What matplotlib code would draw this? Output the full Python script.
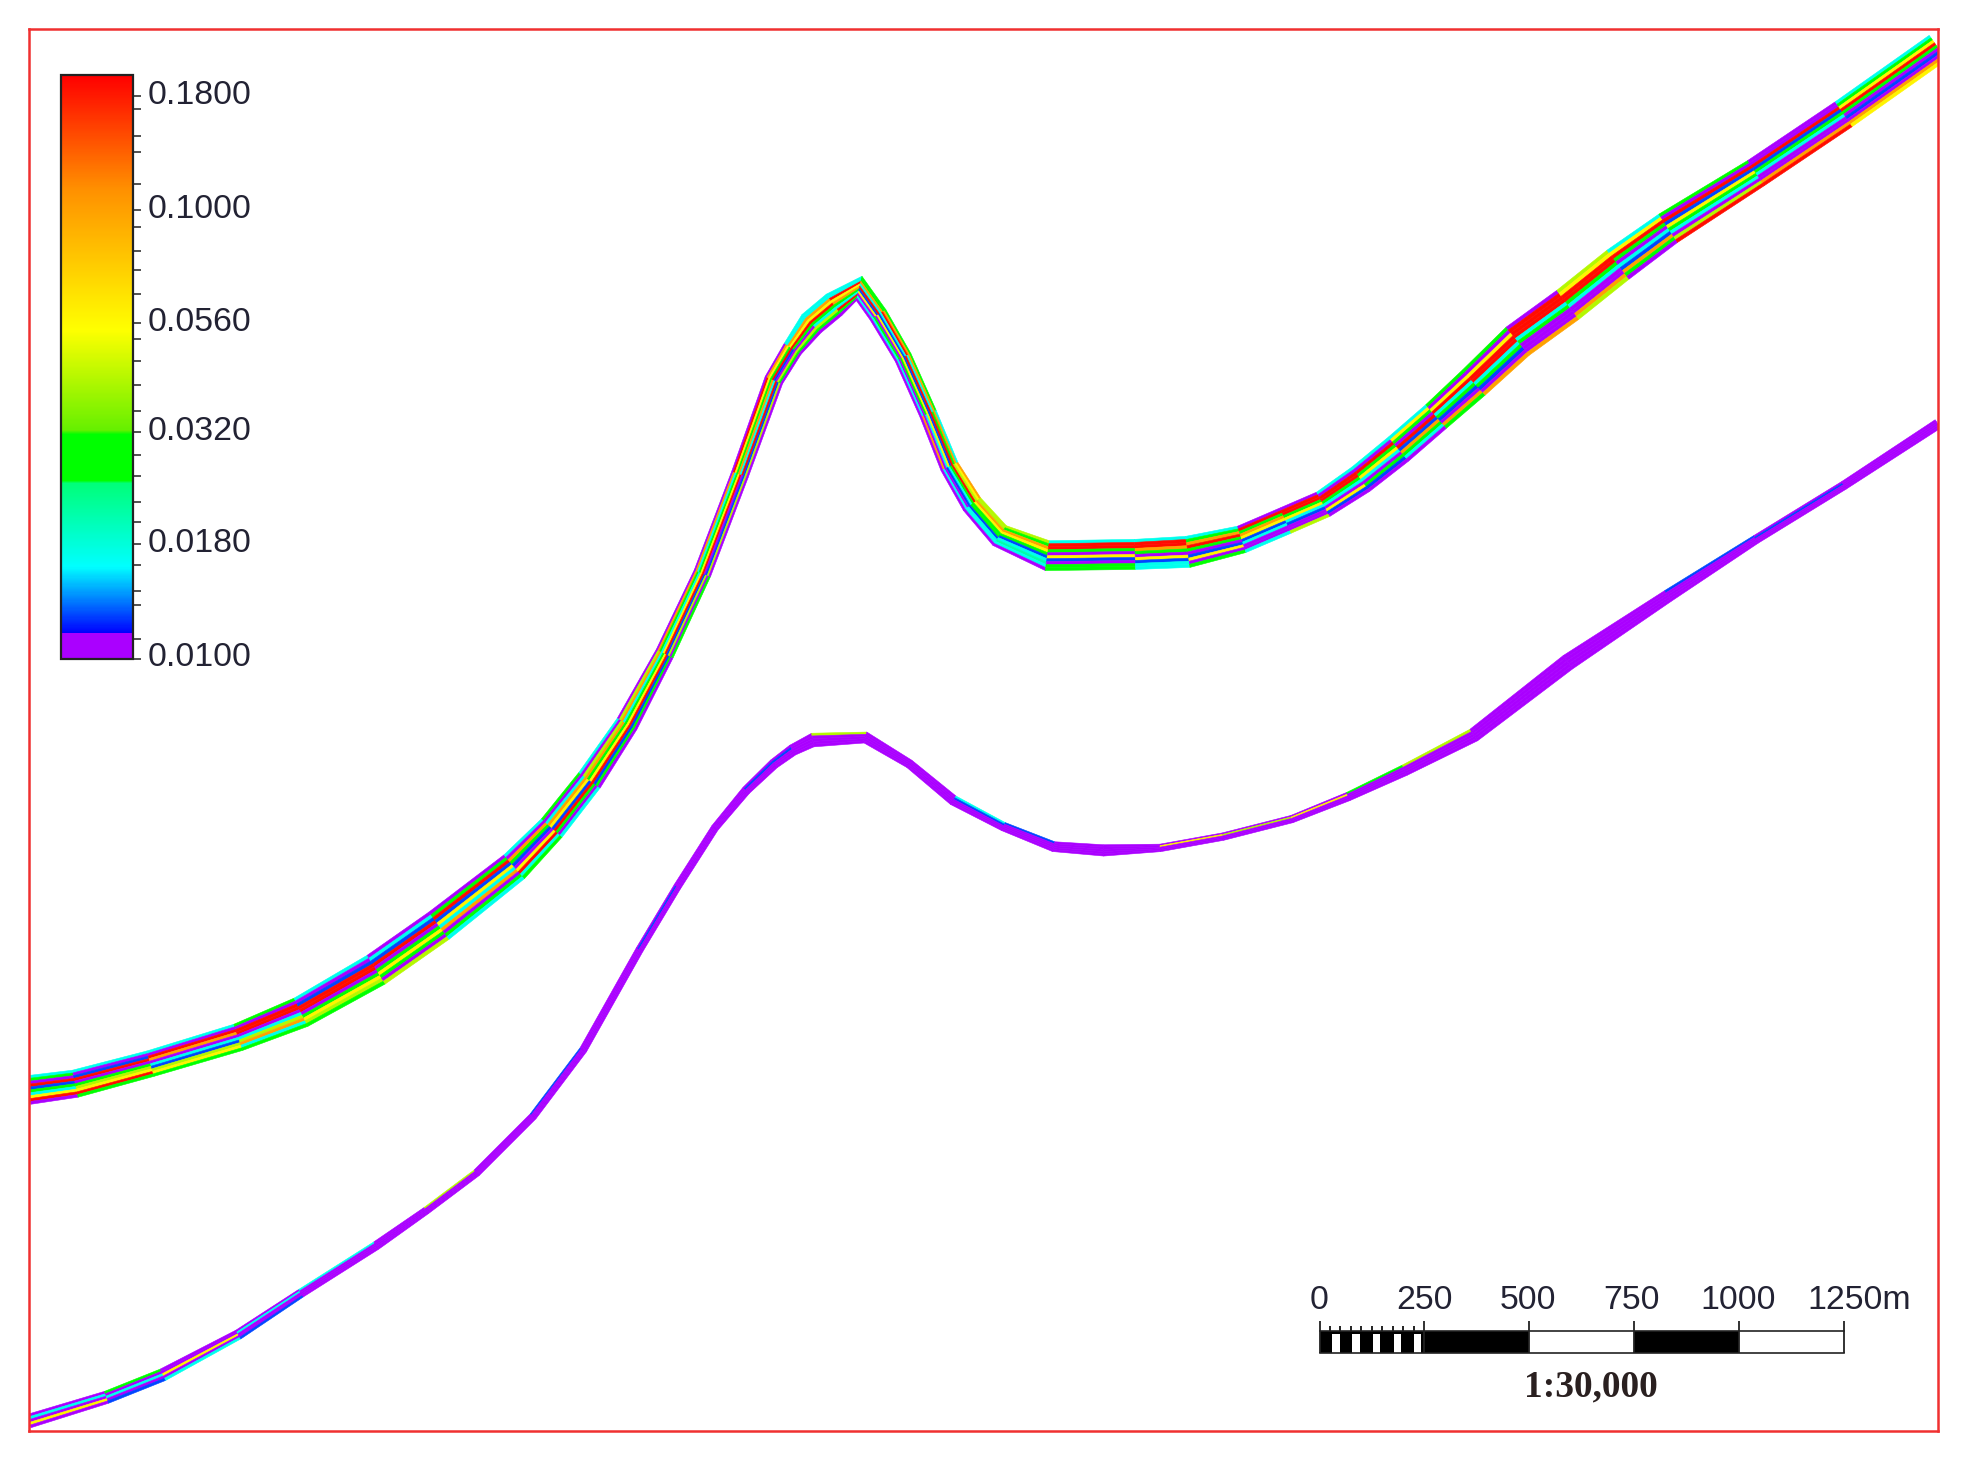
import matplotlib
matplotlib.use("Agg")
import matplotlib.pyplot as plt
import numpy as np
from matplotlib.cm import ScalarMappable
from matplotlib.collections import PolyCollection
from matplotlib.colors import LinearSegmentedColormap, LogNorm
from matplotlib.ticker import NullFormatter
from matplotlib.transforms import ScaledTranslation

W, H = 1967, 1468
S = 1.2543  # picture pixels per map unit

# plume centre lines and widths, in map units
upper_x = [23, 60, 120, 190, 240, 300, 350, 410, 440, 470, 500, 530, 560, 590, 617, 632, 647, 665, 685, 700, 720,
           740, 757, 775, 797, 835, 905, 947, 990, 1025, 1055, 1085, 1115, 1145, 1175, 1210, 1250, 1290, 1330,
           1400, 1470, 1545]
upper_y = [869, 864, 848, 827, 807, 773, 738, 691, 660, 622, 577, 521, 457, 378, 303, 278, 258, 243, 230, 251, 285,
           330, 372, 402, 427, 443, 442, 440, 430, 415, 402, 382, 358, 332, 305, 272, 243, 211, 182,
           138, 91, 38]
upper_w = [23, 22, 21, 22, 25, 27, 27, 25, 22, 21, 18, 15, 14, 14, 15, 16, 21, 21, 20, 15, 14,
           14, 15, 17, 19, 24, 24, 25, 22, 22, 22, 24, 25, 25, 27, 29, 29, 29, 27,
           24, 24, 24]

lower_x = [23, 85, 130, 190, 240, 300, 340, 380, 425, 465, 510, 540, 570, 595, 617, 632, 648, 690, 725, 760, 800,
           840, 880, 925, 975, 1030, 1075, 1120, 1175, 1250, 1330, 1400, 1470, 1545]
lower_y = [1133, 1114, 1096, 1064, 1031, 993, 965, 935, 890, 837, 757, 707, 660, 630, 609, 598, 590, 588, 609, 638, 659,
           675, 678, 676, 667, 653, 635, 614, 586, 528, 475, 430, 387, 338]
lower_w = [11, 10, 10, 8, 7, 7, 6, 6, 6, 6, 6, 6, 6, 7, 8, 9, 11, 9, 7, 8, 7,
           8, 9, 6, 6, 6, 7, 9, 11, 13, 10, 7, 7, 8]

# concentration classes seen in the plume
LEVELS = {"P": 0.0105, "B": 0.0125, "C": 0.017, "S": 0.021, "G": 0.029,
          "L": 0.042, "Y": 0.058, "O": 0.10, "R": 0.19}

# one string per reach, from the top edge to the bottom edge of the plume
upper_reaches = [
    "CGPRBGCYRP", "CPBRPGLYRG", "CPROPCBLYG", "GPRRPCLOCG", "CPBRRPGYLG", "PCBRPGYGPL", "PGRBYCOPGC",
    "CPOGBPYRCG", "GPCOYBRGPC", "CPLOGYRBGP", "PLOCGYRBGP", "POGCYRBLPG", "POCGYRPBLP", "PRYGOCRBLP",
    "POYGRBPLGP", "CCOYRGPLGP", "CCOYRGCLGP", "CCRYOGCRGP", "GGOCRBYPCP", "GORCBYPGCP", "GOCRBYGPCP",
    "COGRBYCPOP", "OYLRGCBPCP", "LLOYGGBCCP", "LGOYGBCSCP", "CRRGPYBPGG", "CRROGPYBCC", "CGORGPBYPG",
    "PRGOYBCPPC", "PRRGYCBPPL", "CPRRGCPYBP", "CPRGYCPGBP", "CYGPRBOGCP", "GPYRCGBPOG", "GPYRRCGBPO",
    "PRRRCGPPPO", "LYRRGCPPOL", "CYRGPCBOGP", "GPRBYGCPLR", "PPRBGCPPOR", "CGYRGPBPOY",
]
lower_reaches = [
    "PCPYP", "GPCPB", "PPYPC", "PCPPB", "CPPPP", "PPPPP", "LPPPP", "PPPPP", "BPPPP", "PPPPP", "PBPPP",
    "PPPPP", "PPPPP", "PBPPP", "PBPPP", "PPPPP", "LPPPP", "PPPPP", "PPPPP", "CBPPP", "BPPPP",
    "PPPPP", "PPPPP", "PYPPP", "PLPPP", "PYPPP", "GPPPP", "LPPPP", "PPPPP", "PPPPP", "BPPPP", "PBPPP", "PPPPP",
]

# legend
colorbar_ticks = [0.01, 0.018, 0.032, 0.056, 0.1, 0.18]
colorbar_minor = [0.01106, 0.01316, 0.01414, 0.0162, 0.0202, 0.0223, 0.0255, 0.0285,
                  0.0356, 0.0407, 0.046, 0.0516, 0.065, 0.0736, 0.0813, 0.0917,
                  0.1144, 0.1346, 0.1463, 0.168]
cmap_stops = [(0.0, "#aa00ff"), (0.042, "#aa00ff"), (0.043, "#0000ff"), (0.157, "#00ffff"),
              (0.300, "#00ff78"), (0.305, "#00ff00"), (0.384, "#00ff00"), (0.392, "#66f000"),
              (0.564, "#ffff00"), (0.805, "#ff9000"), (1.0, "#ff0000")]

# scale bar
scale_labels = ["0", "250", "500", "750", "1000", "1250m"]
scale_pos = [0, 250, 500, 750, 1000, 1250]
scale_label_shift = [0, 0, -3, -6, -3, 36]
scale_minor = [25, 50, 75, 100, 125, 150, 175, 200, 225]
scale_black = [(0, 250), (250, 250), (750, 250)]
scale_gaps = [30, 78, 127, 177, 225]
scale_gap_width = 18

cmap = LinearSegmentedColormap.from_list("plume", cmap_stops, N=512)
norm = LogNorm(vmin=0.01, vmax=0.2)


def px_axes(x0, y0, x1, y1):
    # axes placed in map units, y from the top
    return fig.add_axes([x0 * S / W, 1 - y1 * S / H, (x1 - x0) * S / W, (y1 - y0) * S / H])


def add_band(ax, xs, ys, widths, reaches):
    xs, ys, widths = np.array(xs, float), np.array(ys, float), np.array(widths, float)
    dx, dy = np.gradient(xs), np.gradient(ys)
    ln = np.hypot(dx, dy)
    nx, ny = -dy / ln, dx / ln
    n = len(reaches[0])

    def edge(i, j):
        off = (j / n - 0.5) * widths[i]
        return (xs[i] + nx[i] * off, ys[i] + ny[i] * off)

    polys, vals = [], []
    for i, col in enumerate(reaches):
        for j, code in enumerate(col):
            polys.append([edge(i, j), edge(i, j + 1), edge(i + 1, j + 1), edge(i + 1, j)])
            vals.append(LEVELS[code])
    pc = PolyCollection(polys, array=np.array(vals), cmap=cmap, norm=norm,
                        edgecolors="face", linewidths=0.4)
    ax.add_collection(pc)


fig = plt.figure(figsize=(W / 100, H / 100), dpi=100)

# map frame
ax = px_axes(23, 23, 1545, 1141)
ax.set_xlim(23, 1545)
ax.set_ylim(1141, 23)
ax.set_xticks([])
ax.set_yticks([])
for s in ax.spines.values():
    s.set_color("#f03030")
    s.set_linewidth(1.8)

add_band(ax, upper_x, upper_y, upper_w, upper_reaches)
add_band(ax, lower_x, lower_y, lower_w, lower_reaches)

# legend
cax = px_axes(49, 60, 106, 525)
cbar = fig.colorbar(ScalarMappable(norm=norm, cmap=cmap), cax=cax)
cbar.set_ticks(colorbar_ticks)
cbar.set_ticks(colorbar_minor, minor=True)
cbar.ax.yaxis.set_ticklabels([f"{v:.4f}" for v in colorbar_ticks])
cbar.ax.yaxis.set_minor_formatter(NullFormatter())
cbar.ax.tick_params(axis="y", which="both", length=5.5, width=1.1, color="#222222")
cbar.ax.tick_params(axis="y", which="major", labelsize=24.4, labelcolor="#222233", pad=5)
up = ScaledTranslation(0, 3 / 72, fig.dpi_scale_trans)
for lab in cbar.ax.get_yticklabels():
    lab.set_family("Liberation Sans")
    lab.set_transform(lab.get_transform() + up)
cbar.outline.set_edgecolor("#222222")
cbar.outline.set_linewidth(1.6)

# scale bar
sax = px_axes(1052, 1061, 1470, 1079)
sax.set_xlim(0, 1250)
sax.set_ylim(0, 1)
sax.patch.set_alpha(0)
for name, s in sax.spines.items():
    s.set_visible(name in ("bottom", "top"))
    s.set_color("#222222")
    s.set_linewidth(1.2)
for left, width in scale_black:
    sax.barh(0.5, width, 1, left=left, color="black")
sax.barh([0.42] * len(scale_gaps), [scale_gap_width] * len(scale_gaps), 0.84,
         left=scale_gaps, color="white")
sax.set_yticks([])
sax.xaxis.tick_top()
sax.set_xticks(scale_pos)
sax.set_xticks(scale_minor, minor=True)
sax.set_xticklabels([])
sax.tick_params(axis="x", which="major", length=7, width=1.3, color="#222222")
sax.tick_params(axis="x", which="minor", length=3.5, width=1.4, color="#222222")
sax.vlines(scale_pos, 0, 1, color="#222222", lw=1.3, clip_on=False)
for pos, shift, lab in zip(scale_pos, scale_label_shift, scale_labels):
    sax.text(pos + shift, 1.65, lab, family="Liberation Sans", fontsize=24.4, color="#222233",
             ha="center", va="bottom", clip_on=False)

ax.text(1268, 1106, "1:30,000", family="Liberation Serif", fontweight="bold",
        fontsize=27, color="#2a2020", ha="center", va="center")

fig.savefig("out.png", dpi=100, facecolor="white")
